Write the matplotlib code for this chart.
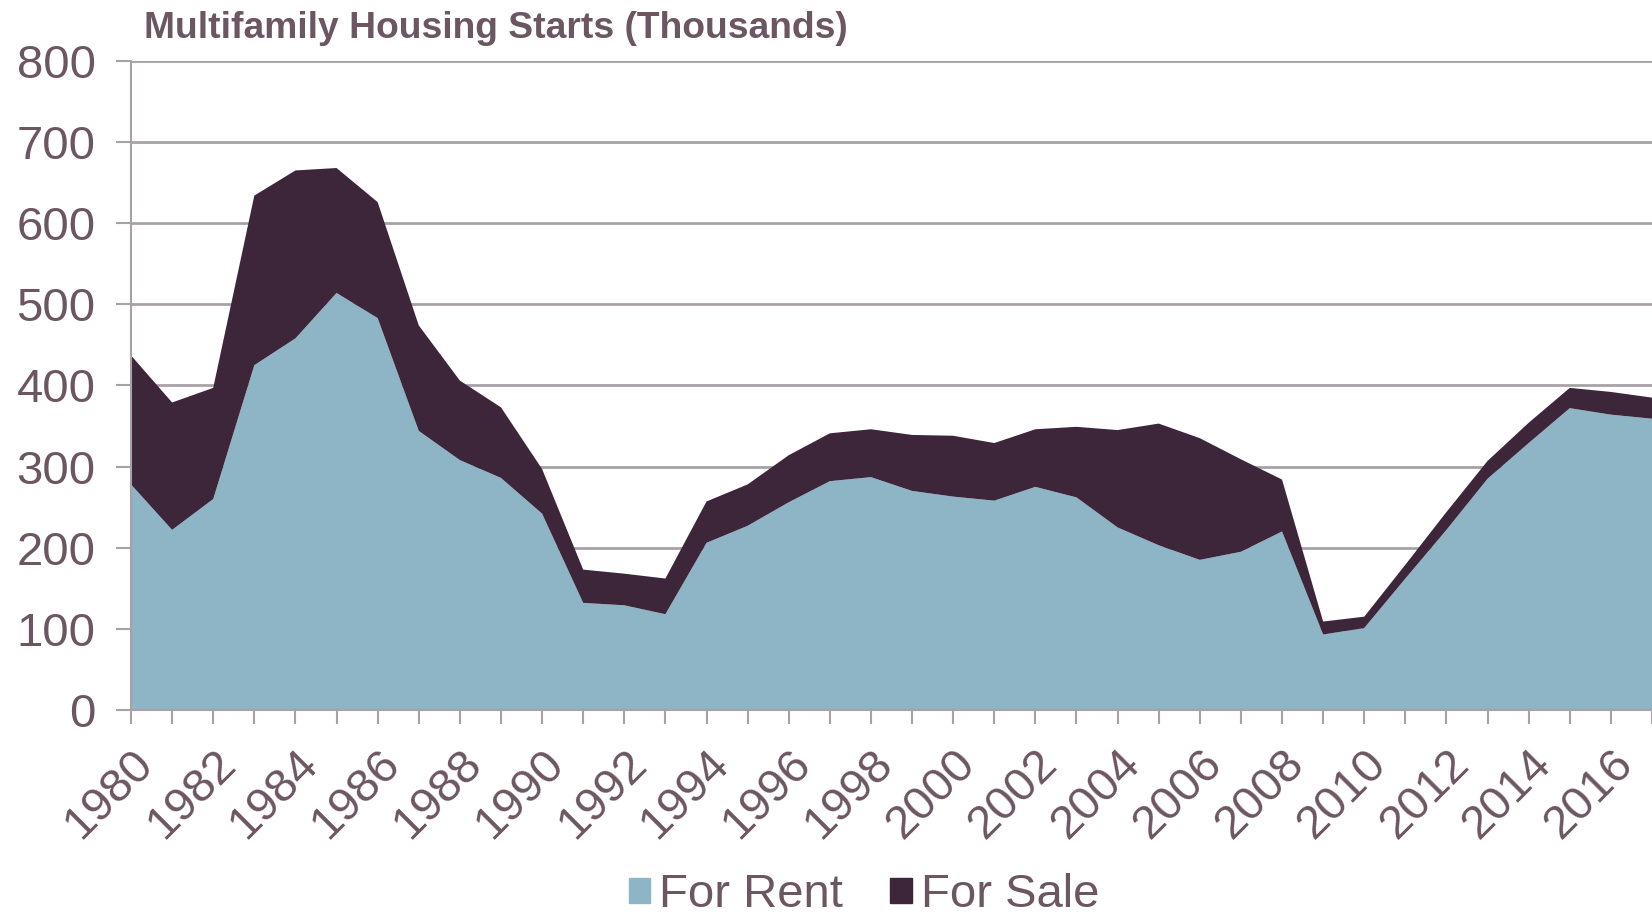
import numpy as np
import matplotlib.pyplot as plt
from matplotlib.patches import Patch

plt.rcParams['font.family'] = ['Liberation Sans', 'DejaVu Sans']

years = list(range(1980, 2018))
# Старты многоквартирного жилья, тыс.
for_rent = [278, 222, 260, 425, 458, 514, 483, 344, 308, 286,
            242, 132, 129, 118, 206, 227, 256, 282, 287, 270,
            263, 258, 275, 262, 225, 203, 185, 195, 220, 93,
            101, 162, 222, 285, 329, 372, 364, 359]
total = [437, 379, 397, 634, 665, 668, 626, 474, 406, 373,
         297, 173, 168, 162, 257, 278, 314, 341, 346, 339,
         338, 329, 346, 349, 345, 353, 335, 309, 284, 109,
         115, 179, 244, 307, 354, 397, 392, 385]
for_sale = [t - r for t, r in zip(total, for_rent)]

rent_color = '#8DB5C6'
sale_color = '#3D263A'
text_color = '#6B5661'
grid_color = '#A8A2A6'

fig = plt.figure(figsize=(16.52, 9.23), dpi=100)
ax = fig.add_axes([0.0793, 0.2308, 0.9207, 0.7032])

ax.stackplot(years, for_rent, for_sale, colors=[rent_color, sale_color], zorder=2)

ax.set_xlim(1980, 2017)
ax.set_ylim(0, 800)
ax.set_yticks(range(0, 801, 100))
ax.set_xticks(range(1980, 2017, 2))
ax.set_xticks(range(1980, 2018), minor=True)
ax.grid(axis='y', color=grid_color, linewidth=2, zorder=0)

for s in ['top', 'right']:
    ax.spines[s].set_visible(False)
for s in ['left', 'bottom']:
    ax.spines[s].set_color(grid_color)
    ax.spines[s].set_linewidth(1.5)
    ax.spines[s].set_zorder(3)

ax.tick_params(axis='y', length=10.5, width=1.5, color=grid_color, pad=15,
               labelsize=34, labelcolor=text_color)
ax.tick_params(axis='x', which='both', length=10, width=1.5, color=grid_color)
ax.tick_params(axis='x', which='major', pad=13, labelsize=34, labelcolor=text_color)
for lab in ax.get_xticklabels():
    lab.set_rotation(45)
    lab.set_ha('right')
    lab.set_va('top')
    lab.set_rotation_mode('anchor')

fig.text(0.087, 0.969, 'Multifamily Housing Starts (Thousands)', fontsize=26.8,
         fontweight='bold', color=text_color, va='center', ha='left')

handles = [Patch(color=rent_color, label='For Rent'),
           Patch(color=sale_color, label='For Sale')]
leg = fig.legend(handles=handles, loc='center', bbox_to_anchor=(0.523, 0.03),
                 ncol=2, frameon=False, fontsize=34, handlelength=0.45,
                 handleheight=0.45, handletextpad=0.2, columnspacing=1.0)
for t in leg.get_texts():
    t.set_color(text_color)

fig.savefig('out.png', dpi=100)
